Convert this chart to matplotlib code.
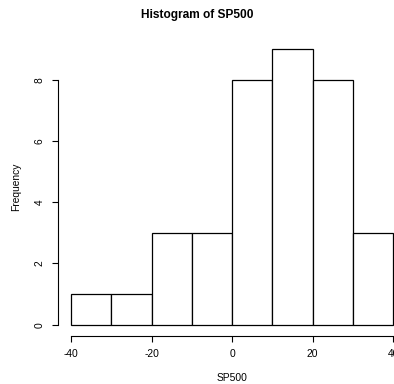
import matplotlib
matplotlib.use("Agg")
import matplotlib.pyplot as plt
import numpy as np

plt.rcParams["font.family"] = ["Liberation Sans", "DejaVu Sans"]

bin_edges = [-40, -30, -20, -10, 0, 10, 20, 30, 40]
counts = [1, 1, 3, 3, 8, 9, 8, 3]
x_ticks = [-40, -20, 0, 20, 40]
y_ticks = [0, 2, 4, 6, 8]

fig = plt.figure(figsize=(3.94, 3.84), dpi=100)
ax = fig.add_axes([0.1475, 0.1258, 0.8827, 0.7745])

lefts = np.array(bin_edges[:-1])
widths = np.diff(bin_edges)
ax.bar(lefts, counts, width=widths, align="edge", color="white",
       edgecolor="black", linewidth=0.9)

ax.set_xlim(-43.2, 43.2)
ax.set_ylim(-0.36, 9.36)
for s in ("top", "right"):
    ax.spines[s].set_visible(False)
ax.spines["left"].set_bounds(0, 8)
ax.spines["bottom"].set_bounds(-40, 40)
for s in ("left", "bottom"):
    ax.spines[s].set_linewidth(0.8)
ax.set_xticks(x_ticks)
ax.set_yticks(y_ticks)
ax.set_xticklabels([str(t) for t in x_ticks])
ax.set_yticklabels([str(t) for t in y_ticks], rotation=90, va="center")
ax.tick_params(length=4.1, width=0.8, labelsize=7.4, pad=5.5)

ax.set_xlabel("SP500", fontsize=7.4, labelpad=10)
ax.set_ylabel("Frequency", fontsize=7.4, labelpad=10)
fig.text(0.5, 0.961, "Histogram of SP500", ha="center", va="center",
         fontsize=8.6, fontweight="bold")

fig.savefig("out.png", dpi=100)
